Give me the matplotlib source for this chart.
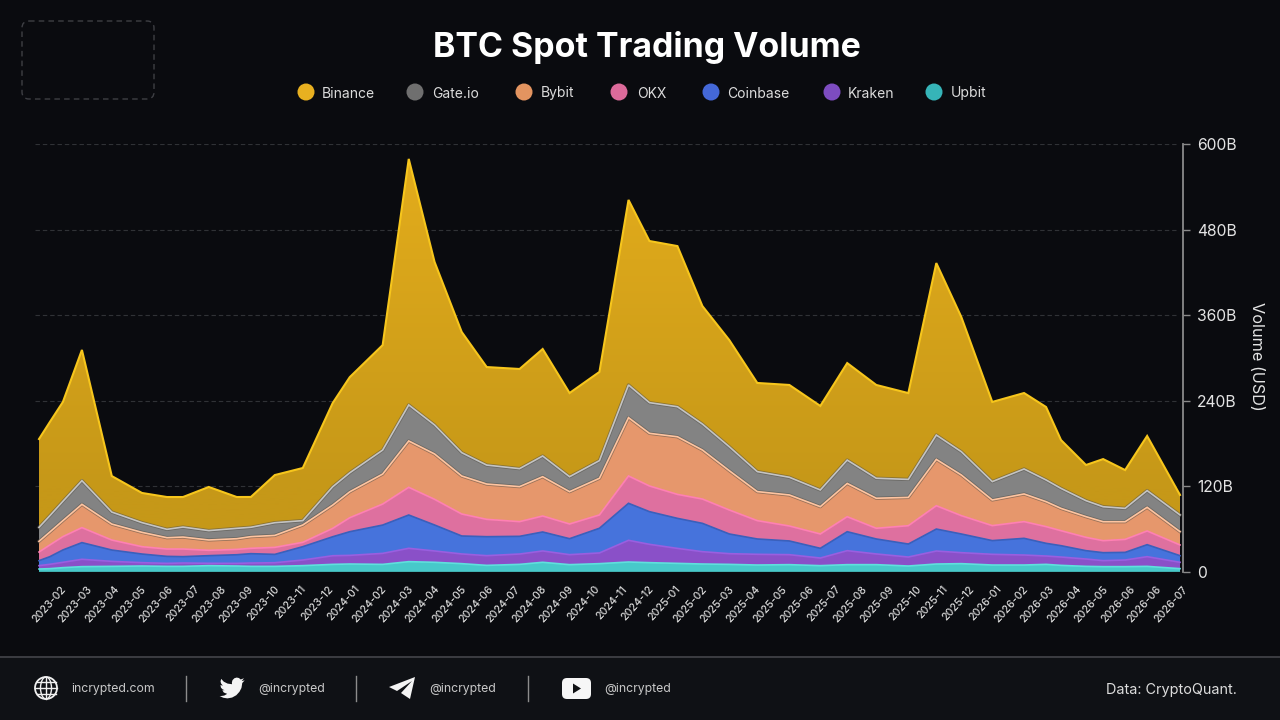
import numpy as np
import matplotlib
matplotlib.use("Agg")
import matplotlib.pyplot as plt
from matplotlib.colors import LinearSegmentedColormap
from matplotlib.patches import Circle, Ellipse, FancyBboxPatch, Polygon, Rectangle

plt.rcParams["font.family"] = ["Inter", "DejaVu Sans"]

months = [
    "2023-02", "2023-03", "2023-04", "2023-05", "2023-06", "2023-07", "2023-08", "2023-09",
    "2023-10", "2023-11", "2023-12", "2024-01", "2024-02", "2024-03", "2024-04", "2024-05",
    "2024-06", "2024-07", "2024-08", "2024-09", "2024-10", "2024-11", "2024-12", "2025-01",
    "2025-02", "2025-03", "2025-04", "2025-05", "2025-06", "2025-07", "2025-08", "2025-09",
    "2025-10", "2025-11", "2025-12", "2026-01", "2026-02", "2026-03", "2026-04", "2026-05",
    "2026-06", "2026-06", "2026-07",
]

# sample positions along the time axis, in months since the start
t = [
    0, 0.40, 0.88, 1.58, 2.68, 3.79, 4.71, 5.30, 6.25, 7.28, 7.80, 8.68, 9.71, 10.81, 11.44, 12.65,
    13.61, 14.56, 15.56, 16.48, 17.69, 18.54, 19.53, 20.63, 21.70, 22.47, 23.50, 24.42, 25.41,
    26.44, 27.62, 28.76, 29.75, 30.82, 32.0, 33.03, 33.95, 35.09, 36.26, 37.07, 37.62, 38.54,
    39.17, 39.98, 40.79, 42,
]

# volumes in billions of USD
upbit = [
    4.2, 4.7, 6.1, 7.5, 7.9, 8.4, 7.9, 7.9, 8.9, 8.4, 7.9, 7.9, 8.9, 10.7, 11.2, 10.7, 14.5,
    13.6, 11.7, 9.3, 10.7, 13.6, 10.3, 11.7, 14, 13.1, 12.1, 11.2, 10.7, 9.8, 10.3, 8.9,
    10.3, 10.3, 8.4, 11.2, 11.7, 9.8, 9.8, 10.7, 9.3, 7.9, 7.5, 7.5, 7.9, 4.7,
]
kraken = [
    4.7, 6.1, 7.5, 10.3, 7, 4.7, 4.2, 4.7, 3.3, 3.7, 4.7, 5.1, 7.9, 12.1, 12.1, 15.4, 18.7,
    15.9, 13.6, 13.6, 14.5, 15.9, 14, 15, 30.4, 25.7, 21, 17.3, 15, 15, 14, 10.7,
    19.6, 15, 12.6, 18.2, 15.4, 15, 14, 11.7, 11.7, 10.3, 8.4, 9.3, 13.6, 8.9,
]
coinbase = [
    7, 10.7, 17.3, 23.4, 15.9, 12.1, 9.8, 8.9, 10.7, 12.1, 13.1, 11.7, 18.7, 26.6, 33.2, 39.7, 46.7,
    36.4, 25.2, 26.6, 24.8, 26.6, 22.4, 34.6, 51.9, 45.8, 42.1, 39.7, 27.6, 21.5, 19.2, 13.6,
    26.6, 21, 18.2, 30.8, 26.2, 19.2, 23.4, 17.8, 15.9, 11.7, 11.2, 10.7, 16.8, 9.3,
]
okx = [
    12.1, 16.4, 18.7, 21, 14, 10.3, 10.3, 10.7, 7.5, 7.5, 7.5, 9.8, 6.1, 11.7, 19.6, 29.4, 38.8,
    36, 30.8, 24.3, 20.6, 22.4, 20.6, 18.7, 38.3, 36, 33.6, 34.1, 33.6, 25.7, 21, 20.1,
    21, 15, 25.7, 32.7, 25.7, 21, 23.4, 23.4, 21, 18.7, 16.8, 18.2, 19.2, 15,
]
bybit = [
    15, 18.2, 22.4, 32.7, 22.4, 20.1, 15.9, 16.8, 14.5, 15, 16.4, 16.8, 24.3, 32.7, 36.4, 42.1, 65,
    63.6, 53.3, 49.5, 49.1, 55.1, 45.3, 51.4, 81.8, 73.8, 80.8, 68.7, 55.1, 40.7, 43.5, 38.3,
    46.7, 42.1, 39.7, 65, 57, 36, 38.8, 35, 31.3, 29, 26.6, 24.8, 33.2, 18.7,
]
gate = [
    19.6, 22.9, 27.1, 33.2, 16.8, 13.6, 11.7, 14, 13.1, 14.5, 13.1, 17.8, 6.1, 25.7, 26.6, 33.6, 50.5,
    40.7, 32.7, 26.6, 25.2, 29, 21, 24.8, 45.8, 43, 42.1, 36.4, 33.6, 28, 24.8, 23.4,
    32.7, 28, 25.2, 34.1, 32.7, 25.7, 35, 30.4, 28, 22.4, 21, 18.7, 23.4, 23.4,
]
binance = [
    123.8, 131.3, 139.3, 183.2, 50.5, 41.6, 45.3, 42.1, 61.2, 43.9, 42.5, 66.8, 73.8, 117.3, 134.1, 147.2, 344.9,
    228.5, 169.2, 137.4, 139.7, 150, 117.3, 124.3, 259.4, 226.6, 225.2, 165.4, 149.5, 124.3, 129.4, 117.8,
    136, 130.8, 121, 241.1, 188.8, 111.7, 106.5, 102.3, 67.8, 50, 66.8, 53.7, 76.6, 28,
]

legend_names = ["Binance", "Gate.io", "Bybit", "OKX", "Coinbase", "Kraken", "Upbit"]
legend_colors = ["#e8b020", "#6f6f6f", "#e39460", "#dc6a9a", "#4468d8", "#7d4cc0", "#36b4b8"]

y_ticks = [0, 120, 240, 360, 480, 600]
y_labels = ["0", "120B", "240B", "360B", "480B", "600B"]

BG = "#0a0b0f"
FOOTER = "#0f1115"
W, H = 1280, 720

fig = plt.figure(figsize=(12.8, 7.2), dpi=100, facecolor=BG)

# main chart, placed by pixel box
left, right, top, bottom = 35, 1183, 144, 572
ax = fig.add_axes([left / W, 1 - bottom / H, (right - left) / W, (bottom - top) / H])
ax.set_facecolor("none")

px_per_month = 1141 / 42
xlim = (-4 / px_per_month, 42 + 3 / px_per_month)

# bottom to top: fill, edge line
layers = [
    (upbit, "#47c9ca", "#5fe0dd"),
    (kraken, "#8a50c8", "#9a5fe0"),
    (coinbase, "#4673dc", "#3a60bc"),
    (okx, "#de709f", "#ff80b4"),
    (bybit, "#e6976c", "#ffc4a0"),
    (gate, "#838383", "#c4c4c4"),
    (binance, "none", "#f7c61c"),
]
polys = ax.stackplot(t, [l[0] for l in layers], colors=["none"] * 7, linewidth=0, zorder=3)
for poly, layer in zip(polys, layers):
    poly.set_facecolor(layer[1])

# gradient body for the top layer, it fades a bit towards the bottom
gold = LinearSegmentedColormap.from_list("gold", ["#e4ad1c", "#c69818"])
im = ax.imshow(np.linspace(0, 1, 256)[:, None], extent=(0, 42, 0, 600), aspect="auto", cmap=gold,
               vmin=0, vmax=0.8, zorder=2.5)
im.set_clip_path(polys[-1].get_paths()[0], transform=ax.transData)

stack = np.cumsum([l[0] for l in layers], axis=0)
for i, layer in enumerate(layers):
    if i == 4 or i == 5:
        ax.plot(t, stack[i], color="#55524a", lw=2.4, zorder=4 + i * 0.1, alpha=0.55)
    lw = 1.5 if i == 6 else 1.2
    ax.plot(t, stack[i], color=layer[2], lw=lw, zorder=4.05 + i * 0.1, solid_joinstyle="miter")

for v in y_ticks[1:]:
    ax.plot(xlim[0:1] + (41.85,), (v, v), color="#303236", lw=0.8, dashes=(4, 2.6), zorder=1)
ax.plot((0, 42), (0, 0), color="#2a4a48", lw=1, zorder=5)

ax.set_xlim(xlim)
ax.set_ylim(0, 600)
ax.set_xticks([])
ax.yaxis.tick_right()
ax.set_yticks(y_ticks, y_labels)
ax.tick_params(axis="y", length=5, width=1, color="#8a8a8a", labelcolor="#e4e4e4", labelsize=11.3, pad=5)
for name, spine in ax.spines.items():
    spine.set_visible(name == "right")
ax.spines["right"].set_color("#8a8a8a")
ax.spines["right"].set_linewidth(1.3)

# month labels run on their own spacing, a bit offset from the samples
label_pos = np.linspace(0.78, 42.1, len(months))
for m, x in zip(months, label_pos):
    ax.text(x, -0.028, m, transform=ax.get_xaxis_transform(), rotation=48, ha="right", va="top",
            rotation_mode="anchor", fontsize=7.6, fontweight="medium", color="#dadada", clip_on=False)

# everything else is placed in pixel coordinates
ui = fig.add_axes([0, 0, 1, 1], zorder=5)
ui.set_xlim(0, W)
ui.set_ylim(H, 0)
ui.axis("off")
ui.patch.set_alpha(0)

ui.text(647, 48, "BTC Spot Trading Volume", ha="center", va="center", fontsize=24.4,
        fontweight="bold", color="#ffffff")
ui.text(1256, 356, "Volume (USD)", rotation=270, ha="center", va="center", fontsize=11.7, color="#e4e4e4")

dot_x = [306, 415, 524, 619, 711, 832, 934]
text_x = [322, 432, 541, 637, 727, 848, 951]
for dx, tx, name, c in zip(dot_x, text_x, legend_names, legend_colors):
    ui.add_patch(Circle((dx, 92), 8.5, color=c, lw=0))
    ui.text(tx, 93.5, name, ha="left", va="center", fontsize=10, color="#dcdcdc")

# placeholder frame, top left
ui.add_patch(FancyBboxPatch((22, 21), 132, 78, boxstyle="round,pad=0,rounding_size=7", fill=False,
                            ec="#3e3f44", lw=1, ls=(0, (4, 3))))

# footer
ui.add_patch(Rectangle((0, 657), W, 63, color=FOOTER, lw=0))
ui.plot((0, W), (657, 657), color="#3c3d42", lw=1.4)
for x in [186, 356, 528]:
    ui.plot((x, x), (676, 701), color="#8c8c8c", lw=1)

ui.text(71, 689, "incrypted.com", ha="left", va="center", fontsize=8.8, color="#c8c8c8")
for x in [258, 429, 604]:
    ui.text(x, 689, "@incrypted", ha="left", va="center", fontsize=8.8, color="#c8c8c8")
ui.text(1106, 690, "Data: CryptoQuant.", ha="left", va="center", fontsize=10.4, color="#dcdcdc")

# globe icon
ui.add_patch(Circle((46, 688), 11, fill=False, ec="#f0f0f0", lw=1.3))
ui.add_patch(Ellipse((46, 688), 11, 22, fill=False, ec="#f0f0f0", lw=1))
ui.plot((46, 46), (677, 699), color="#f0f0f0", lw=1)
for y, half in [(682, 9.5), (688, 11), (694, 9.5)]:
    ui.plot((46 - half, 46 + half), (y, y), color="#f0f0f0", lw=1)

# bird icon
bird = np.array([
    (24, 4.6), (21.1, 5.35), (23.3, 2.6), (20.2, 3.8), (18.5, 2.4), (16.4, 1.95), (14.2, 2.6),
    (12.4, 4.4), (11.8, 6.5), (11.9, 8.3), (7.7, 7.7), (4.1, 5.9), (1.6, 3.2), (1, 5.6), (1.5, 7.6),
    (3.2, 9.7), (0.9, 9.1), (1.4, 11.6), (2.9, 13.2), (4.9, 14), (2.7, 14.1), (4.1, 16.2), (7.3, 17.5),
    (4.5, 19.1), (1.2, 19.6), (0, 19.5), (3.6, 21.2), (7.6, 21.8), (12, 21), (16, 18.8), (19, 15.5),
    (20.9, 11.9), (21.6, 7.8), (21.6, 7.2),
])
ui.add_patch(Polygon(bird * 1.05 + (219.5, 675.5), closed=True, color="#f4f4f4", lw=0))

# plane icon
ui.add_patch(Polygon([(415, 677), (389, 687), (397, 691), (412, 681), (401, 693), (410, 699)],
                     closed=True, color="#f4f4f4", lw=0))

# play button icon
ui.add_patch(FancyBboxPatch((565, 681), 23, 15, boxstyle="round,pad=3,rounding_size=5", fc="#f6f6f6", ec="none"))
ui.add_patch(Polygon([(573, 683.5), (581, 688.5), (573, 693.5)], closed=True, color="#101114", lw=0))

fig.savefig("out.png", dpi=100, facecolor=BG)
